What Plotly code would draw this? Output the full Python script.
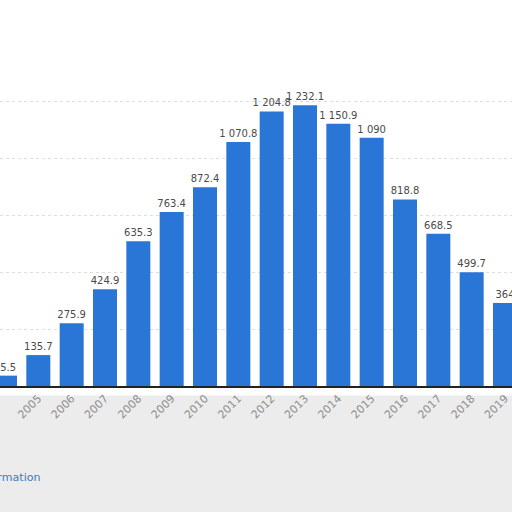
import plotly.graph_objects as go

# ---------- Data ----------
years = [2004, 2005, 2006, 2007, 2008, 2009, 2010, 2011, 2012,
         2013, 2014, 2015, 2016, 2017, 2018, 2019]
values = [45.5, 135.7, 275.9, 424.9, 635.3, 763.4, 872.4, 1070.8, 1204.8,
          1232.1, 1150.9, 1090, 818.8, 668.5, 499.7, 364]

BAR_COLOR = "#2a76d6"


def _fmt(v):
    # statista style: space as thousands separator, drop ".0"
    s = f"{v:,.1f}".replace(",", " ")
    if s.endswith(".0"):
        s = s[:-2]
    return s


labels = [_fmt(v) for v in values]

fig = go.Figure()

fig.add_trace(go.Bar(
    x=years, y=values,
    marker=dict(color=BAR_COLOR, line=dict(width=0)),
    text=labels,
    textposition="outside",
    constraintext="none",
    textfont=dict(family="DejaVu Sans", size=10, color="#4a4a4a"),
    cliponaxis=False,
    hoverinfo="skip",
))

# grey haze under the axis
fig.add_shape(type="rect", xref="paper", yref="paper",
              x0=-0.1, x1=1.1, y0=-0.6, y1=-0.03,
              fillcolor="#ececec", line=dict(width=0), layer="below")

# partial link text cut off at the left edge
fig.add_annotation(
    xref="paper", yref="paper", x=42 / 512, y=-0.288,
    xanchor="right", yanchor="middle",
    text="Additional Information", showarrow=False,
    font=dict(family="DejaVu Sans", size=11, color="#3a7bbf"),
)

fig.update_layout(
    width=512, height=512,
    margin=dict(l=0, r=0, t=67, b=126),
    paper_bgcolor="white",
    plot_bgcolor="white",
    showlegend=False,
    bargap=0.28,
    xaxis=dict(
        range=[2003.85, 2019.21],
        tickmode="array", tickvals=years, ticktext=[str(y) for y in years],
        tickangle=-45,
        tickfont=dict(family="DejaVu Sans", size=11, color="#8f8f8f"),
        showgrid=False, zeroline=False,
        showline=True, linecolor="#222222", linewidth=1.5,
        ticks="",
        automargin=False,
    ),
    yaxis=dict(
        range=[0, 1400],
        dtick=250,
        showticklabels=False,
        showgrid=True, gridcolor="#dddddd", griddash="dot", gridwidth=1,
        zeroline=False,
        automargin=False,
    ),
)

# drop the default 8px body margin so the figure sits flush in the window
fig.write_html("out.html",
               config=dict(displayModeBar=False),
               post_script="document.body.style.margin = '0';")
